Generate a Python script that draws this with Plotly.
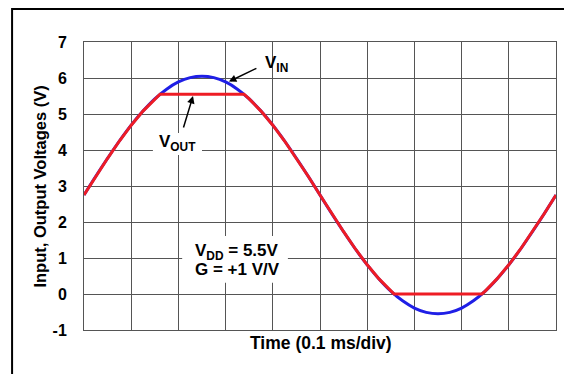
import plotly.graph_objects as go

# Time in divisions (0.1 ms/div)
t_in = [0, 0.25, 0.5, 0.75, 1.0, 1.25, 1.5, 1.75, 2.0, 2.25, 2.5, 2.75, 3.0, 3.25,
        3.5, 3.75, 4.0, 4.25, 4.5, 4.75, 5.0, 5.25, 5.5, 5.75, 6.0, 6.25, 6.5, 6.75,
        7.0, 7.25, 7.5, 7.75, 8.0, 8.25, 8.5, 8.75, 9.0, 9.25, 9.5, 9.75, 10.0]
v_in = [2.75, 3.27, 3.77, 4.25, 4.69, 5.08, 5.42, 5.69, 5.89, 6.01, 6.05, 6.01, 5.89, 5.69,
        5.42, 5.08, 4.69, 4.25, 3.77, 3.27, 2.75, 2.23, 1.73, 1.25, 0.81, 0.42, 0.08, -0.19,
        -0.39, -0.51, -0.55, -0.51, -0.39, -0.19, 0.08, 0.42, 0.81, 1.25, 1.73, 2.23, 2.75]

t_out = [0, 0.25, 0.5, 0.75, 1.0, 1.25, 1.5, 1.61, 3.39, 3.5, 3.75, 4.0, 4.25, 4.5, 4.75,
         5.0, 5.25, 5.5, 5.75, 6.0, 6.25, 6.5, 6.57, 8.43, 8.5, 8.75, 9.0, 9.25, 9.5, 9.75, 10.0]
v_out = [2.75, 3.27, 3.77, 4.25, 4.69, 5.08, 5.42, 5.55, 5.55, 5.42, 5.08, 4.69, 4.25, 3.77, 3.27,
         2.75, 2.23, 1.73, 1.25, 0.81, 0.42, 0.08, 0.0, 0.0, 0.08, 0.42, 0.81, 1.25, 1.73, 2.23, 2.75]

y_ticks = [-1, 0, 1, 2, 3, 4, 5, 6, 7]

FONT = "Liberation Sans, Arial, sans-serif"

# figure is placed 8px from the page's top-left corner (default body margin)
W, H = 564, 366
ML, MR, MT, MB = 76, 15.5, 34, 44
PW = W - ML - MR
PH = H - MT - MB


def px(xw):  # window x -> paper x
    return (xw - 8 - ML) / PW


def py(yw):  # window y -> paper y
    return (H - MB - (yw - 8)) / PH


fig = go.Figure()
fig.add_trace(go.Scatter(x=t_in, y=v_in, mode="lines", line=dict(color="#1f1fe6", width=3, shape="spline"),
                         name="VIN", hoverinfo="skip"))
fig.add_trace(go.Scatter(x=t_out, y=v_out, mode="lines", line=dict(color="#ee1c24", width=3),
                         name="VOUT", hoverinfo="skip"))

# white boxes behind labels (hide grid)
fig.add_shape(type="rect", x0=2.08, x1=4.32, y0=0.31, y1=1.61, layer="between",
              fillcolor="white", line=dict(width=0))
fig.add_shape(type="rect", x0=1.46, x1=2.5, y0=3.86, y1=4.47, layer="between",
              fillcolor="white", line=dict(width=0))

# outer frame
fig.add_shape(type="line", xref="paper", yref="paper", x0=px(12), x1=px(569), y0=py(9), y1=py(9),
              line=dict(color="black", width=2))
fig.add_shape(type="line", xref="paper", yref="paper", x0=px(12), x1=px(12), y0=py(8), y1=py(380),
              line=dict(color="black", width=2))
fig.add_shape(type="line", xref="paper", yref="paper", x0=px(569), x1=px(569), y0=py(9), y1=py(380),
              line=dict(color="#b0b0b0", width=1))

ann_font = dict(family=FONT, size=17, color="black", weight="bold")
fig.add_annotation(x=4.07, y=6.39, text="V<sub>IN</sub>", showarrow=False, font=ann_font)
fig.add_annotation(x=1.99, y=4.19, text="V<sub>OUT</sub>", showarrow=False, font=ann_font)
fig.add_annotation(x=2.31, y=1.17, xanchor="left", text="V<sub>DD</sub> = 5.5V", showarrow=False, font=ann_font)
fig.add_annotation(x=2.31, y=0.67, xanchor="left", text="G = +1 V/V", showarrow=False, font=ann_font)

# arrows
fig.add_annotation(x=3.07, y=5.90, ax=29, ay=-14, text="", showarrow=True,
                   arrowhead=2, arrowsize=1, arrowwidth=1.5, arrowcolor="black")
fig.add_annotation(x=2.31, y=5.50, ax=-10, ay=33, text="", showarrow=True,
                   arrowhead=2, arrowsize=1, arrowwidth=1.5, arrowcolor="black")

# axis titles
fig.add_annotation(xref="paper", yref="paper", x=px(321), y=py(343), xanchor="center", yanchor="middle",
                   text="Time (0.1 ms/div)", showarrow=False,
                   font=dict(family=FONT, size=17.5, color="black", weight="bold"))
fig.add_annotation(xref="paper", yref="paper", x=px(39), y=py(186.5), xanchor="center", yanchor="middle",
                   textangle=-90, text="Input, Output Voltages (V)", showarrow=False,
                   font=dict(family=FONT, size=16.5, color="black", weight="bold"))

GRID = "#555555"
fig.update_xaxes(range=[0, 10], dtick=1, showticklabels=False, showgrid=True, gridcolor=GRID,
                 gridwidth=1, zeroline=False, showline=True, mirror=True, linecolor=GRID, linewidth=1,
                 ticks="")
fig.update_yaxes(range=[-1, 7], tickvals=y_ticks, ticktext=[str(v) for v in y_ticks],
                 showgrid=True, gridcolor=GRID, gridwidth=1, zeroline=False, showline=True, mirror=True,
                 linecolor=GRID, linewidth=1, ticks="", ticklabelstandoff=13,
                 tickfont=dict(family=FONT, size=16, color="black", weight="bold"))

fig.update_layout(width=W, height=H, margin=dict(l=ML, r=MR, t=MT, b=MB, autoexpand=False),
                  paper_bgcolor="white", plot_bgcolor="white", showlegend=False)

fig.write_html("out.html")
